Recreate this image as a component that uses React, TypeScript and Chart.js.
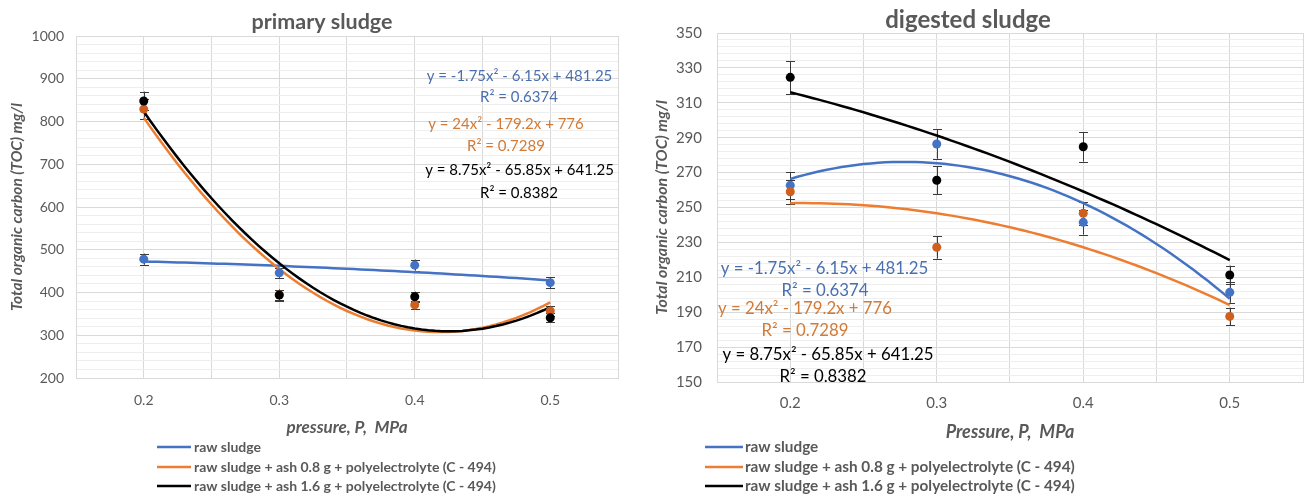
import React, { useEffect, useRef } from 'react';
import { Chart, registerables } from 'chart.js';

Chart.register(...registerables);

// ---------------- data ----------------
const pressures = [0.2, 0.3, 0.4, 0.5];
const pressureLabels = ['0.2', '0.3', '0.4', '0.5'];
const seriesNames = [
  'raw sludge',
  'raw sludge + ash 0.8 g + polyelectrolyte (C - 494)',
  'raw sludge + ash 1.6 g + polyelectrolyte (C - 494)',
];

const primaryRaw = [478, 446, 464, 423];
const primaryRawErr = [13, 12, 13, 13];
const primaryAsh08 = [829, 395, 371, 357];
const primaryAsh08Err = [24, 12, 10, 12];
const primaryAsh16 = [848, 394, 390, 341];
const primaryAsh16Err = [22, 13, 12, 10];

const digestedRaw = [262.7, 286.4, 241.5, 201.4];
const digestedRawErr = [7.6, 8.5, 7, 6];
const digestedAsh08 = [259, 227.2, 246.7, 187.6];
const digestedAsh08Err = [7, 6.5, 6.6, 5];
const digestedAsh16 = [324.6, 265.6, 284.8, 211.3];
const digestedAsh16Err = [9.4, 8, 8.5, 5.4];

const primaryYLabels = ['200', '300', '400', '500', '600', '700', '800', '900', '1000'];
const digestedYLabels = ['150', '170', '190', '210', '230', '250', '270', '290', '310', '330', '350'];

const equationLines = [
  'y = -1.75x² - 6.15x + 481.25',
  'R² = 0.6374',
  'y = 24x² - 179.2x + 776',
  'R² = 0.7289',
  'y = 8.75x² - 65.85x + 641.25',
  'R² = 0.8382',
];

const titles = ['primary sludge', 'digested sludge'];
const yTitle = 'Total organic carbon (TOC) mg/l';
const xTitles = ['pressure, P,  MPa', 'Pressure, P,  MPa'];

// ---------------- style ----------------
const FONT = 'Lato, "Noto Sans", sans-serif';
const GRAY = '#595959';
const BLUE = '#4472C4';
const ORANGE_LINE = '#ED7D31';
const ORANGE_MARK = '#CF5F1E';
const BLACK = '#000000';
const NOTE_BLUE = '#4A6FB0';
const NOTE_ORANGE = '#D27A36';
const MAJOR_GRID = '#D9D9D9';
const MINOR_GRID = '#EEEEEE';

// least squares quadratic trendline (as the spreadsheet does)
function quadFit(xs: number[], ys: number[]) {
  let n = xs.length, sx = 0, sx2 = 0, sx3 = 0, sx4 = 0, sy = 0, sxy = 0, sx2y = 0;
  for (let i = 0; i < n; i++) {
    const x = xs[i], y = ys[i];
    sx += x; sx2 += x * x; sx3 += x * x * x; sx4 += x * x * x * x;
    sy += y; sxy += x * y; sx2y += x * x * y;
  }
  const det3 = (m: number[][]) =>
    m[0][0] * (m[1][1] * m[2][2] - m[1][2] * m[2][1]) -
    m[0][1] * (m[1][0] * m[2][2] - m[1][2] * m[2][0]) +
    m[0][2] * (m[1][0] * m[2][1] - m[1][1] * m[2][0]);
  const M = [[n, sx, sx2], [sx, sx2, sx3], [sx2, sx3, sx4]];
  const R = [sy, sxy, sx2y];
  const D = det3(M);
  return [0, 1, 2].map((k) => det3(M.map((row, r) => row.map((v, c) => (c === k ? R[r] : v)))) / D);
}

function trend(xs: number[], ys: number[]) {
  const [a, b, c] = quadFit(xs, ys);
  const steps = 60;
  const x0 = xs[0], x1 = xs[xs.length - 1];
  const pts: { x: number; y: number }[] = [];
  for (let i = 0; i <= steps; i++) {
    const x = x0 + ((x1 - x0) * i) / steps;
    pts.push({ x, y: a + b * x + c * x * x });
  }
  return pts;
}

type Spec = {
  width: number;
  area: { left: number; right: number; top: number; bottom: number };
  xAxisHeight: number;
  series: number[][];
  errors: number[][];
  yLabels: string[];
  yMinorStep: number;
  title: string;
  titleX: number;
  titleY: number;
  titleSize: number;
  xTitle: string;
  tickSize: number;
  xTitleSize: number;
  yTitleSize: number;
  yTitleCenter: number;
  tickPad: number;
  xTickPad: number;
  xTitleCenterY: number;
  notes: { x: number; y: number }[];
  noteSize: number;
  legend: { x0: number; x1: number; tx: number; ys: number[]; size: number };
};

const colors = [BLUE, ORANGE_LINE, BLACK];
const markColors = [BLUE, ORANGE_MARK, BLACK];
const noteColors = [NOTE_BLUE, NOTE_BLUE, NOTE_ORANGE, NOTE_ORANGE, BLACK, BLACK];

function buildChart(canvas: HTMLCanvasElement, s: Spec) {
  const pointSets = s.series.map((vals, i) => ({
    label: seriesNames[i],
    data: pressures.map((p, j) => ({ x: p, y: vals[j] })),
    showLine: false,
    pointRadius: 4.5,
    pointHoverRadius: 4.5,
    pointBackgroundColor: markColors[i],
    pointBorderColor: markColors[i],
    pointBorderWidth: 0,
    order: 2 - i,
  }));
  const lineSets = s.series.map((vals, i) => ({
    label: seriesNames[i] + ' trend',
    data: trend(pressures, vals),
    showLine: true,
    borderColor: colors[i],
    borderWidth: 2.5,
    pointRadius: 0,
    tension: 0,
    order: 5 - i,
  }));

  const yMin = Number(s.yLabels[0]);
  const yMax = Number(s.yLabels[s.yLabels.length - 1]);
  const findY = (v: number) => s.yLabels.indexOf(String(Math.round(v * 1000) / 1000));
  const findX = (v: number) => pressures.findIndex((p) => Math.abs(p - v) < 1e-6);
  const xTitleLH = s.xTitleSize * 1.2;
  const xAxisBottom = s.area.bottom + s.xAxisHeight;

  const errorPlugin = {
    id: 'errorBars',
    beforeDatasetsDraw(chart: any) {
      const ctx = chart.ctx;
      const yScale = chart.scales.y;
      const xScale = chart.scales.x;
      ctx.save();
      ctx.strokeStyle = '#3A3A3A';
      ctx.lineWidth = 1;
      s.series.forEach((vals, i) => {
        vals.forEach((v, j) => {
          const e = s.errors[i][j];
          const px = Math.round(xScale.getPixelForValue(pressures[j])) + 0.5;
          const top = yScale.getPixelForValue(v + e);
          const bot = yScale.getPixelForValue(v - e);
          ctx.beginPath();
          ctx.moveTo(px, top);
          ctx.lineTo(px, bot);
          ctx.moveTo(px - 4.5, Math.round(top) + 0.5);
          ctx.lineTo(px + 4.5, Math.round(top) + 0.5);
          ctx.moveTo(px - 4.5, Math.round(bot) + 0.5);
          ctx.lineTo(px + 4.5, Math.round(bot) + 0.5);
          ctx.stroke();
        });
      });
      ctx.restore();
    },
  };

  const decorPlugin = {
    id: 'decor',
    afterDraw(chart: any) {
      const ctx = chart.ctx;
      ctx.save();
      ctx.textAlign = 'center';
      ctx.textBaseline = 'middle';
      ctx.fillStyle = GRAY;
      ctx.font = `bold ${s.titleSize}px ${FONT}`;
      ctx.fillText(s.title, s.titleX, s.titleY);
      ctx.font = `${s.noteSize}px ${FONT}`;
      equationLines.forEach((t, k) => {
        ctx.fillStyle = noteColors[k];
        ctx.fillText(t, s.notes[k].x, s.notes[k].y);
      });
      ctx.textAlign = 'left';
      ctx.font = `bold ${s.legend.size}px ${FONT}`;
      seriesNames.forEach((name, i) => {
        const y = s.legend.ys[i];
        ctx.strokeStyle = colors[i];
        ctx.lineWidth = 2.5;
        ctx.beginPath();
        ctx.moveTo(s.legend.x0, y);
        ctx.lineTo(s.legend.x1, y);
        ctx.stroke();
        ctx.fillStyle = GRAY;
        ctx.fillText(name, s.legend.tx, y);
      });
      ctx.restore();
    },
  };

  return new Chart(canvas, {
    type: 'scatter',
    data: { datasets: [...pointSets, ...lineSets] as any },
    plugins: [errorPlugin, decorPlugin],
    options: {
      animation: false,
      responsive: false,
      events: [],
      layout: {
        padding: {
          left: 0,
          right: s.width - s.area.right,
          top: s.area.top,
          bottom: 500 - s.area.bottom - s.xAxisHeight,
        },
      },
      plugins: { legend: { display: false }, tooltip: { enabled: false }, title: { display: false } },
      scales: {
        x: {
          type: 'linear',
          min: 0.15,
          max: 0.55,
          afterFit: (sc: any) => { sc.height = s.xAxisHeight; },
          ticks: {
            stepSize: 0.05,
            autoSkip: false,
            maxRotation: 0,
            padding: s.xTickPad,
            color: GRAY,
            font: { family: FONT, size: s.tickSize },
            callback: (v: any) => { const k = findX(Number(v)); return k >= 0 ? pressureLabels[k] : ''; },
          },
          grid: { color: MAJOR_GRID, drawTicks: false, lineWidth: 1 },
          border: { display: true, color: MAJOR_GRID },
          title: {
            display: true,
            text: s.xTitle,
            color: GRAY,
            font: { family: FONT, size: s.xTitleSize, weight: 'bold', style: 'italic' },
            padding: { top: 0, bottom: xAxisBottom - s.xTitleCenterY - xTitleLH / 2 },
          },
        },
        y: {
          type: 'linear',
          min: yMin,
          max: yMax,
          afterFit: (sc: any) => { sc.width = s.area.left; },
          ticks: {
            stepSize: s.yMinorStep,
            autoSkip: false,
            padding: s.tickPad,
            color: GRAY,
            font: { family: FONT, size: s.tickSize },
            callback: (v: any) => { const k = findY(Number(v)); return k >= 0 ? s.yLabels[k] : ''; },
          },
          grid: {
            drawTicks: false,
            color: (c: any) => (findY(c.tick.value) >= 0 ? MAJOR_GRID : MINOR_GRID),
          },
          border: { display: true, color: MAJOR_GRID },
          title: {
            display: true,
            text: yTitle,
            color: GRAY,
            font: { family: FONT, size: s.yTitleSize, weight: 'bold', style: 'italic' },
            padding: { top: s.yTitleCenter - (s.yTitleSize * 1.2) / 2, bottom: 0 },
          },
        },
      },
    } as any,
  });
}

const primarySpec: Spec = {
  width: 650,
  area: { left: 76, right: 618, top: 36, bottom: 378 },
  xAxisHeight: 60,
  series: [primaryRaw, primaryAsh08, primaryAsh16],
  errors: [primaryRawErr, primaryAsh08Err, primaryAsh16Err],
  yLabels: primaryYLabels,
  yMinorStep: 20,
  title: titles[0],
  titleX: 322,
  titleY: 22,
  titleSize: 21.5,
  xTitle: xTitles[0],
  tickSize: 14,
  xTitleSize: 17,
  yTitleSize: 15.5,
  yTitleCenter: 17,
  tickPad: 12,
  xTickPad: 14,
  xTitleCenterY: 428,
  notes: [
    { x: 519.5, y: 76 }, { x: 519, y: 97 },
    { x: 506, y: 124 }, { x: 506, y: 146 },
    { x: 519.5, y: 170 }, { x: 519, y: 193 },
  ],
  noteSize: 15,
  legend: { x0: 157, x1: 191, tx: 194, ys: [447, 467, 486], size: 14 },
};

const digestedSpec: Spec = {
  width: 665,
  area: { left: 67, right: 662, top: 33, bottom: 382 },
  xAxisHeight: 60,
  series: [digestedRaw, digestedAsh08, digestedAsh16],
  errors: [digestedRawErr, digestedAsh08Err, digestedAsh16Err],
  yLabels: digestedYLabels,
  yMinorStep: 4,
  title: titles[1],
  titleX: 318,
  titleY: 20,
  titleSize: 24,
  xTitle: xTitles[1],
  tickSize: 15,
  xTitleSize: 18,
  yTitleSize: 16,
  yTitleCenter: 12,
  tickPad: 15,
  xTickPad: 12,
  xTitleCenterY: 432,
  notes: [
    { x: 174.5, y: 269 }, { x: 175, y: 291 },
    { x: 155, y: 309 }, { x: 155, y: 331 },
    { x: 178, y: 355 }, { x: 173, y: 377 },
  ],
  noteSize: 16.8,
  legend: { x0: 55, x1: 93, tx: 95, ys: [447, 467, 486], size: 15.3 },
};

function ChartBox({ spec, left }: { spec: Spec; left: number }) {
  const ref = useRef<HTMLCanvasElement>(null);
  useEffect(() => {
    const chart = buildChart(ref.current!, spec);
    return () => chart.destroy();
  }, [spec]);
  return (
    <div style={{ position: 'absolute', left, top: 0, width: spec.width, height: 500 }}>
      <canvas ref={ref} width={spec.width} height={500} style={{ display: 'block' }} />
    </div>
  );
}

export default function App() {
  return (
    <div style={{ position: 'fixed', left: 0, top: 0, width: 1315, height: 500, background: '#ffffff', overflow: 'hidden' }}>
      <ChartBox spec={primarySpec} left={0} />
      <ChartBox spec={digestedSpec} left={650} />
    </div>
  );
}
